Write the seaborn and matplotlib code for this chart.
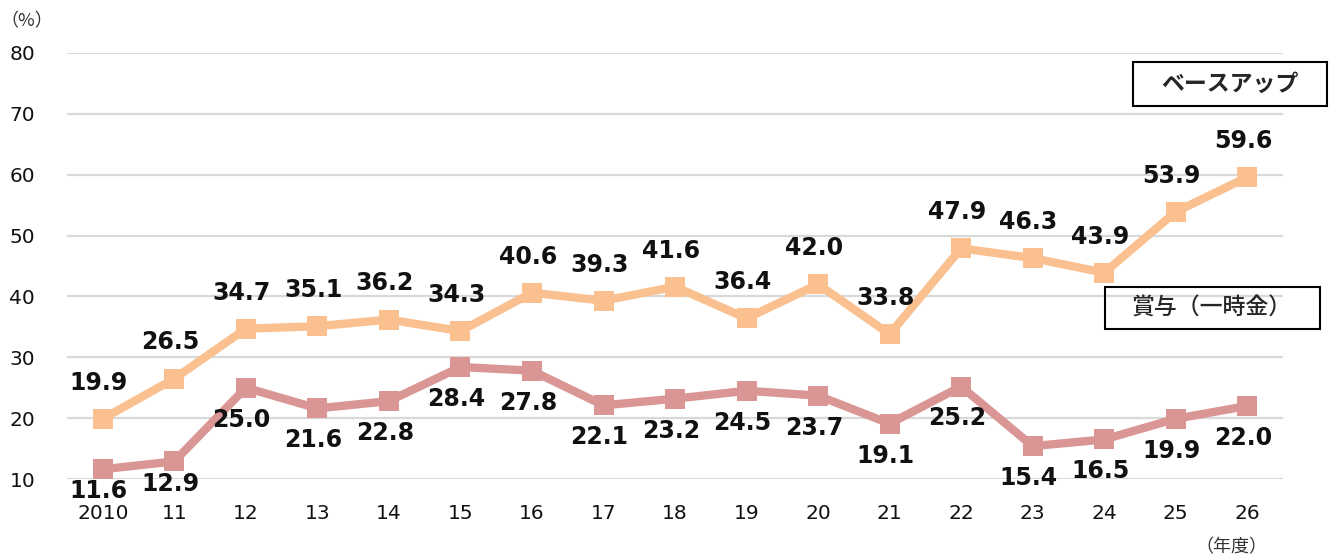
import matplotlib
matplotlib.use("Agg")
import matplotlib.pyplot as plt
from matplotlib.patches import Rectangle
import pandas as pd
import seaborn as sns

# values
years = ["2010", "11", "12", "13", "14", "15", "16", "17", "18",
         "19", "20", "21", "22", "23", "24", "25", "26"]
base_up = [19.9, 26.5, 34.7, 35.1, 36.2, 34.3, 40.6, 39.3, 41.6,
           36.4, 42.0, 33.8, 47.9, 46.3, 43.9, 53.9, 59.6]
bonus = [11.6, 12.9, 25.0, 21.6, 22.8, 28.4, 27.8, 22.1, 23.2,
         24.5, 23.7, 19.1, 25.2, 15.4, 16.5, 19.9, 22.0]
series_names = ["ベースアップ", "賞与（一時金）"]
y_ticks = [10, 20, 30, 40, 50, 60, 70, 80]

colors = {"ベースアップ": "#FAC090", "賞与（一時金）": "#D99694"}

sns.set_style("white")
plt.rcParams["font.family"] = ["DejaVu Sans", "Noto Sans CJK JP"]

df = pd.DataFrame({
    "idx": list(range(len(years))) * 2,
    "value": base_up + bonus,
    "series": [series_names[0]] * len(years) + [series_names[1]] * len(years),
})

fig = plt.figure(figsize=(13.33, 5.59), dpi=100)
ax = fig.add_axes([0.0503, 0.1431, 0.9122, 0.7621])

sns.lineplot(data=df, x="idx", y="value", hue="series", palette=colors,
             marker="s", markersize=14, markeredgewidth=0, linewidth=6,
             dashes=False, legend=False, ax=ax, zorder=3)

ax.set_xlim(-0.5, len(years) - 0.5)
ax.set_ylim(10, 80)
ax.set_yticks(y_ticks)
ax.set_xticks(range(len(years)))
ax.set_xticklabels(years)
ax.grid(axis="y", color="#D9D9D9", linewidth=1.6, zorder=0)
ax.grid(axis="x", visible=False)
for s in ax.spines.values():
    s.set_visible(False)
ax.tick_params(axis="x", length=0, pad=18, labelsize=14.5, colors="#111111")
ax.tick_params(axis="y", length=0, pad=23, labelsize=14.5, colors="#111111")
ax.set_xlabel("")
ax.set_ylabel("")

# data labels
for i, v in enumerate(base_up):
    ax.annotate(f"{v:.1f}", (i, v), xytext=(-3, 26), textcoords="offset points",
                ha="center", va="center", fontsize=17, fontweight="bold",
                color="#111111", zorder=4)
for i, v in enumerate(bonus):
    dy = -16 if v < 14 else -23
    ax.annotate(f"{v:.1f}", (i, v), xytext=(-3, dy), textcoords="offset points",
                ha="center", va="center", fontsize=17, fontweight="bold",
                color="#111111", zorder=4)

# series name boxes
fig.add_artist(Rectangle((1133 / 1333, 1 - 106 / 559), 194 / 1333, 44 / 559,
                         transform=fig.transFigure, fill=False,
                         edgecolor="black", linewidth=1.5))
fig.text(1230 / 1333, 1 - 84 / 559, series_names[0], ha="center", va="center",
         fontsize=16.5, fontweight="bold", family=["Noto Sans CJK JP"])
fig.add_artist(Rectangle((1105 / 1333, 1 - 329 / 559), 215 / 1333, 42 / 559,
                         transform=fig.transFigure, fill=False,
                         edgecolor="black", linewidth=1.5))
fig.text(1212 / 1333, 1 - 308 / 559, series_names[1], ha="center", va="center",
         fontsize=16.5, fontweight="medium", family=["Noto Sans CJK JP"])

# unit labels
fig.text(27 / 1333, 1 - 21 / 559, "（%）", ha="center", va="center",
         fontsize=13, color="#333333", family=["Noto Sans CJK JP", "DejaVu Sans"])
fig.text(1231 / 1333, 1 - 547 / 559, "（年度）", ha="center", va="center",
         fontsize=13, color="#333333", family=["Noto Sans CJK JP"])

fig.savefig("out.png", dpi=100)
